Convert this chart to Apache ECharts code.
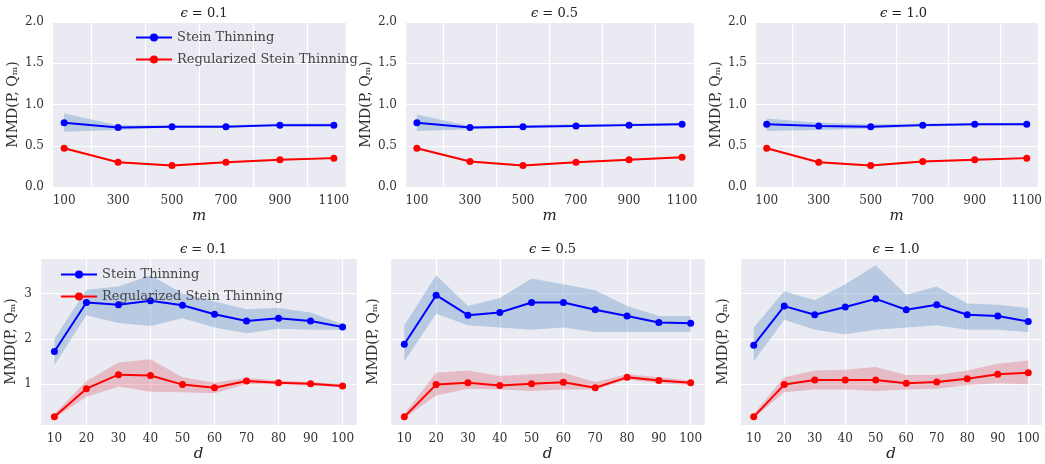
<!DOCTYPE html>
<html>
<head>
<meta charset="utf-8">
<script src="https://cdn.jsdelivr.net/npm/echarts@6/dist/echarts.min.js"></script>
<style>html,body{margin:0;background:#fff}#c{width:1045px;height:464px}</style>
</head>
<body>
<div id="c"></div>
<script>
// x values
var mVals = [100, 300, 500, 700, 900, 1100];
var dVals = [10, 20, 30, 40, 50, 60, 70, 80, 90, 100];
var epsValues = ['0.1', '0.5', '1.0'];

// top row (vs m)
var topStein = [
  [0.78, 0.72, 0.73, 0.73, 0.75, 0.75],
  [0.78, 0.72, 0.73, 0.74, 0.75, 0.76],
  [0.76, 0.74, 0.73, 0.75, 0.76, 0.76]
];
var topSteinHi = [
  [0.89, 0.75, 0.75, 0.75, 0.77, 0.77],
  [0.88, 0.74, 0.75, 0.76, 0.77, 0.78],
  [0.83, 0.78, 0.76, 0.77, 0.77, 0.78]
];
var topSteinLo = [
  [0.67, 0.69, 0.72, 0.72, 0.74, 0.74],
  [0.68, 0.70, 0.72, 0.73, 0.74, 0.75],
  [0.68, 0.69, 0.71, 0.73, 0.75, 0.75]
];
var topReg = [
  [0.47, 0.30, 0.26, 0.30, 0.33, 0.35],
  [0.47, 0.31, 0.26, 0.30, 0.33, 0.36],
  [0.47, 0.30, 0.26, 0.31, 0.33, 0.35]
];
var topRegHi = [
  [0.48, 0.31, 0.27, 0.31, 0.34, 0.36],
  [0.48, 0.32, 0.27, 0.31, 0.34, 0.37],
  [0.48, 0.31, 0.27, 0.32, 0.34, 0.36]
];
var topRegLo = [
  [0.46, 0.29, 0.25, 0.29, 0.32, 0.34],
  [0.46, 0.30, 0.25, 0.29, 0.32, 0.35],
  [0.46, 0.29, 0.25, 0.30, 0.32, 0.34]
];

// bottom row (vs d)
var botStein = [
  [1.72, 2.80, 2.75, 2.84, 2.74, 2.54, 2.39, 2.45, 2.39, 2.26],
  [1.88, 2.96, 2.52, 2.58, 2.80, 2.80, 2.64, 2.50, 2.36, 2.34],
  [1.86, 2.72, 2.53, 2.70, 2.88, 2.64, 2.75, 2.53, 2.50, 2.38]
];
var botSteinHi = [
  [2.00, 3.08, 3.15, 3.40, 3.00, 2.82, 2.65, 2.68, 2.58, 2.32],
  [2.30, 3.40, 2.72, 2.90, 3.33, 3.20, 3.07, 2.72, 2.50, 2.50],
  [2.25, 3.05, 2.85, 3.20, 3.62, 2.97, 3.15, 2.78, 2.75, 2.68]
];
var botSteinLo = [
  [1.42, 2.52, 2.35, 2.28, 2.45, 2.25, 2.12, 2.22, 2.20, 2.20],
  [1.50, 2.55, 2.30, 2.25, 2.20, 2.25, 2.15, 2.15, 2.15, 2.15],
  [1.50, 2.42, 2.20, 2.10, 2.20, 2.25, 2.30, 2.20, 2.20, 2.15]
];
var botReg = [
  [0.28, 0.90, 1.21, 1.19, 0.99, 0.92, 1.07, 1.03, 1.01, 0.96],
  [0.28, 0.99, 1.03, 0.97, 1.01, 1.04, 0.92, 1.15, 1.08, 1.03],
  [0.28, 0.99, 1.09, 1.09, 1.09, 1.02, 1.05, 1.12, 1.22, 1.25]
];
var botRegHi = [
  [0.35, 1.07, 1.48, 1.55, 1.15, 1.03, 1.14, 1.08, 1.05, 1.00],
  [0.35, 1.25, 1.30, 1.18, 1.22, 1.25, 1.05, 1.22, 1.15, 1.08],
  [0.35, 1.15, 1.30, 1.32, 1.38, 1.20, 1.20, 1.30, 1.45, 1.52]
];
var botRegLo = [
  [0.25, 0.72, 0.95, 0.83, 0.82, 0.80, 1.00, 0.99, 0.97, 0.93],
  [0.25, 0.75, 0.90, 0.88, 0.85, 0.88, 0.88, 1.10, 1.02, 0.98],
  [0.25, 0.82, 0.88, 0.88, 0.85, 0.88, 0.90, 0.98, 1.02, 1.00]
];

var FONT = 'DejaVu Serif';
var grids = [
  {left: 52, width: 294, top: 22, height: 165},
  {left: 405, width: 289, top: 22, height: 165},
  {left: 755, width: 287, top: 22, height: 165},
  {left: 40, width: 317, top: 258, height: 167},
  {left: 390, width: 315, top: 258, height: 167},
  {left: 740, width: 302, top: 258, height: 167}
];
var xAxes = [], yAxes = [], series = [], titles = [];

function pairs(xs, ys) { return xs.map(function (x, i) { return [x, ys[i]]; }); }

// shaded band between lo and hi, drawn as one polygon through the axes' coord
function band(idx, xs, lo, hi, color) {
  var rows = xs.map(function (x, j) { return [x, lo[j], hi[j]]; });
  series.push({type: 'custom', xAxisIndex: idx, yAxisIndex: idx, silent: true, z: 1,
    data: rows, encode: {x: 0, y: [1, 2]},
    renderItem: function (params, api) {
      if (params.dataIndex !== 0) return;
      var up = [], down = [];
      rows.forEach(function (r) {
        up.push(api.coord([r[0], r[2]]));
        down.unshift(api.coord([r[0], r[1]]));
      });
      return {type: 'polygon', shape: {points: up.concat(down)}, style: {fill: color}};
    }
  });
}
function line(idx, xs, ys, color, name) {
  series.push({type: 'line', name: name, xAxisIndex: idx, yAxisIndex: idx, symbol: 'circle', symbolSize: 7,
    itemStyle: {color: color}, lineStyle: {color: color, width: 2}, data: pairs(xs, ys), z: 3});
}

for (var i = 0; i < 6; i++) {
  var isTop = i < 3, k = i % 3;
  var xs = isTop ? mVals : dVals;
  var g = grids[i];
  titles.push({text: '{e|ϵ} = ' + epsValues[k], left: g.left + g.width / 2, top: g.top - 20, textAlign: 'center',
    textStyle: {fontFamily: FONT, fontWeight: 'normal', fontSize: 13, color: '#222',
      rich: {e: {fontFamily: FONT, fontStyle: 'italic', fontSize: 13, color: '#222'}}}});
  xAxes.push({type: 'value', gridIndex: i, min: isTop ? 55 : 5.5, max: isTop ? 1145 : 104.5,
    name: isTop ? 'm' : 'd', nameLocation: 'middle', nameGap: 22,
    nameTextStyle: {fontFamily: FONT, fontStyle: 'italic', fontSize: 15, color: '#222'},
    axisLine: {show: false}, axisTick: {show: false},
    axisLabel: {customValues: xs, fontFamily: FONT, fontSize: 12, color: '#333', margin: 8,
      formatter: function (v) { return String(v); }},
    splitLine: {show: true, customValues: xs, lineStyle: {color: '#fff', width: 1.2}}
  });
  yAxes.push({type: 'value', gridIndex: i, min: isTop ? 0 : 0.1, max: isTop ? 2 : 3.78,
    interval: isTop ? 0.5 : undefined,
    name: 'MMD(P, Qₘ)', nameLocation: 'middle', nameGap: isTop ? 32 : (k === 0 ? 22 : 10),
    nameTextStyle: {fontFamily: FONT, fontSize: 14, color: '#333'},
    axisLine: {show: false}, axisTick: {show: false},
    axisLabel: isTop ? {fontFamily: FONT, fontSize: 12, color: '#333', formatter: function (v) { return v.toFixed(1); }}
      : {show: k === 0, customValues: [1, 2, 3], fontFamily: FONT, fontSize: 12, color: '#333'},
    splitLine: isTop ? {lineStyle: {color: '#fff', width: 1.2}}
      : {lineStyle: {color: '#fff', width: 1.2}, customValues: [1, 2, 3]}
  });
  var sLo = isTop ? topSteinLo[k] : botSteinLo[k], sHi = isTop ? topSteinHi[k] : botSteinHi[k];
  var rLo = isTop ? topRegLo[k] : botRegLo[k], rHi = isTop ? topRegHi[k] : botRegHi[k];
  band(i, xs, sLo, sHi, 'rgba(100,150,200,0.38)');
  band(i, xs, rLo, rHi, 'rgba(220,80,95,0.3)');
  line(i, xs, isTop ? topStein[k] : botStein[k], '#0000ff', 'Stein Thinning');
  line(i, xs, isTop ? topReg[k] : botReg[k], '#ff0000', 'Regularized Stein Thinning');
}

var legendStyle = {orient: 'vertical', itemWidth: 36, itemHeight: 10, itemGap: 9,
  textStyle: {fontFamily: FONT, fontSize: 13, color: '#444'},
  data: ['Stein Thinning', 'Regularized Stein Thinning']};
var chart = echarts.init(document.getElementById('c'));
chart.setOption({
  backgroundColor: '#fff',
  animation: false,
  title: titles,
  legend: [
    Object.assign({left: 130, top: 26}, legendStyle),
    Object.assign({left: 55, top: 263}, legendStyle)
  ],
  grid: grids.map(function (g) {
    return Object.assign({show: true, backgroundColor: '#eaeaf2', borderWidth: 0}, g);
  }),
  xAxis: xAxes,
  yAxis: yAxes,
  series: series
});
</script>
</body>
</html>
